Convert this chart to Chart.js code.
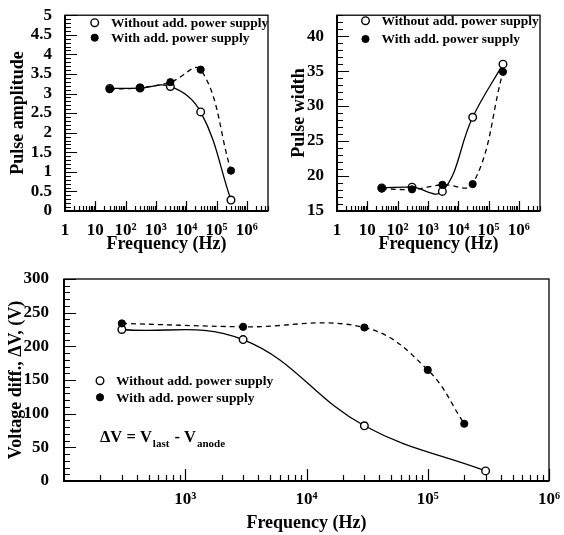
<!DOCTYPE html>
<html>
<head>
<meta charset="utf-8">
<script src="https://cdn.jsdelivr.net/npm/chart.js@4"></script>
<style>
  body { margin: 0; background: #fff; }
  #wrap { position: relative; width: 564px; height: 535px; }
  canvas { position: absolute; }
</style>
</head>
<body>
<div id="wrap">
  <canvas id="ampChart" width="282" height="260" style="left:0;top:0"></canvas>
  <canvas id="widthChart" width="282" height="260" style="left:282px;top:0"></canvas>
  <canvas id="voltChart" width="564" height="275" style="left:0;top:260px"></canvas>
</div>
<script>
// values
const seriesLabels = ['Without add. power supply', 'With add. power supply'];

const freqTop = [30, 300, 3000, 30000, 300000];
const ampWithout = [3.13, 3.14, 3.18, 2.53, 0.28];
const ampWith = [3.11, 3.15, 3.29, 3.61, 1.03];
const widthWithout = [18.3, 18.4, 17.8, 28.4, 36.0];
const widthWith = [18.2, 18.1, 18.75, 18.85, 34.9];

const freqVoltWithout = [300, 3000, 30000, 300000];
const voltWithout = [225, 210, 82, 15];
const freqVoltWith = [300, 3000, 30000, 100000, 200000];
const voltWith = [234, 229, 228, 165, 85];

const topFreqTicks = [1, 10, 100, 1000, 10000, 100000, 1000000];
const topFreqLabels = ['1', '10', '10²', '10³', '10⁴', '10⁵', '10⁶'];
const voltFreqTicks = [1000, 10000, 100000, 1000000];
const voltFreqLabels = ['10³', '10⁴', '10⁵', '10⁶'];

const FONT = 'Liberation Serif';

function points(xs, ys) {
    return xs.map((x, i) => ({ x: x, y: ys[i] }));
}

// frame, inward ticks, legend and note drawn inside the plot
const axesFrame = {
    id: 'axesFrame',
    afterDatasetsDraw(chart, args, o) {
        const { ctx, chartArea: a, scales: { x, y } } = chart;
        ctx.save();
        ctx.strokeStyle = '#000';
        ctx.lineWidth = 1.2;
        ctx.beginPath();
        for (let i = 0; ; i++) {
            const v = y.min + i * o.yMinor;
            if (v > y.max + 1e-9) break;
            const r = v / o.yMajor;
            const major = Math.abs(r - Math.round(r)) < 1e-6;
            const py = Math.round(y.getPixelForValue(v)) + 0.5;
            ctx.moveTo(a.left, py);
            ctx.lineTo(a.left + (major ? o.yMajorLen : o.yMinorLen), py);
        }
        const d0 = Math.floor(Math.log10(x.min));
        const d1 = Math.ceil(Math.log10(x.max));
        for (let d = d0; d <= d1; d++) {
            for (let k = 1; k <= 9; k++) {
                const v = k * Math.pow(10, d);
                if (v < x.min * 0.999 || v > x.max * 1.001) continue;
                const px = Math.round(x.getPixelForValue(v)) + 0.5;
                ctx.moveTo(px, a.bottom);
                ctx.lineTo(px, a.bottom - (k === 1 ? o.xMajorLen : o.xMinorLen));
            }
        }
        ctx.stroke();

        ctx.lineWidth = 1.3;
        ctx.strokeRect(a.left, a.top, a.right - a.left, a.bottom - a.top);
        ctx.lineWidth = 2;
        ctx.beginPath();
        ctx.moveTo(a.left, a.top);
        ctx.lineTo(a.left, a.bottom);
        ctx.lineTo(a.right, a.bottom);
        ctx.stroke();

        // legend
        const lg = o.legend;
        ctx.font = 'bold 13.5px "' + FONT + '"';
        ctx.textBaseline = 'middle';
        ctx.textAlign = 'left';
        chart.data.datasets.forEach((ds, i) => {
            const ly = lg.y + i * lg.gap;
            ctx.beginPath();
            ctx.arc(lg.x, ly, ds.pointRadius, 0, Math.PI * 2);
            ctx.fillStyle = ds.pointBackgroundColor;
            ctx.fill();
            ctx.lineWidth = ds.pointBorderWidth;
            ctx.strokeStyle = '#000';
            ctx.stroke();
            ctx.fillStyle = '#000';
            ctx.fillText(ds.label, lg.textX, ly + 1);
        });

        if (o.note) {
            const parts = [
                ['ΔV = V', 16.5, 0],
                ['last', 11, 5],
                [' - V', 16.5, 0],
                ['anode', 11, 5]
            ];
            let nx = o.note.x;
            ctx.textBaseline = 'alphabetic';
            parts.forEach(p => {
                ctx.font = 'bold ' + p[1] + 'px "' + FONT + '"';
                ctx.fillText(p[0], nx, o.note.y + p[2]);
                nx += ctx.measureText(p[0]).width + 1;
            });
        }
        ctx.restore();
    }
};

function lineSets(withoutPts, withPts) {
    return [
        {
            label: seriesLabels[0],
            data: withoutPts,
            order: 2,
            borderColor: '#000',
            backgroundColor: '#fff',
            borderWidth: 1.3,
            pointRadius: 3.8,
            pointBorderWidth: 1.4,
            pointBackgroundColor: '#fff',
            pointBorderColor: '#000',
            tension: 0.4,
            fill: false
        },
        {
            label: seriesLabels[1],
            data: withPts,
            order: 1,
            borderColor: '#000',
            backgroundColor: '#000',
            borderWidth: 1.3,
            borderDash: [5, 4],
            pointRadius: 3.6,
            pointBorderWidth: 1,
            pointBackgroundColor: '#000',
            pointBorderColor: '#000',
            tension: 0.4,
            fill: false
        }
    ];
}

function makeChart(id, cfg) {
    const tickFont = { family: FONT, size: 17, weight: 'bold' };
    const titleFont = { family: FONT, size: 18, weight: 'bold' };
    return new Chart(document.getElementById(id), {
        type: 'line',
        data: { datasets: cfg.datasets },
        options: {
            responsive: false,
            animation: false,
            layout: { padding: cfg.padding },
            plugins: {
                legend: { display: false },
                tooltip: { enabled: false },
                axesFrame: cfg.frame
            },
            scales: {
                x: {
                    type: 'logarithmic',
                    min: cfg.xMin,
                    max: cfg.xMax,
                    grid: { display: false },
                    border: { display: false },
                    afterBuildTicks: s => { s.ticks = cfg.xTicks.map(v => ({ value: v })); },
                    afterFit: s => { s.height = cfg.xHeight; },
                    ticks: {
                        autoSkip: false,
                        maxRotation: 0,
                        padding: cfg.xTickPad,
                        color: '#000',
                        font: tickFont,
                        callback: (v, i) => cfg.xLabels[i]
                    },
                    title: {
                        display: true,
                        text: 'Frequency (Hz)',
                        color: '#000',
                        font: titleFont,
                        padding: { top: 0, bottom: cfg.xTitlePad }
                    }
                },
                y: {
                    type: 'linear',
                    min: cfg.yMin,
                    max: cfg.yMax,
                    grid: { display: false },
                    border: { display: false },
                    afterFit: s => { s.width = cfg.yWidth; },
                    ticks: {
                        stepSize: cfg.yStep,
                        includeBounds: false,
                        autoSkip: false,
                        padding: cfg.yTickPad,
                        color: '#000',
                        font: tickFont,
                        callback: v => String(Math.round(v * 10) / 10)
                    },
                    title: {
                        display: true,
                        text: cfg.yTitle,
                        color: '#000',
                        font: titleFont,
                        padding: { top: cfg.yTitlePad, bottom: 0 }
                    }
                }
            }
        },
        plugins: [axesFrame]
    });
}

makeChart('ampChart', {
    datasets: lineSets(points(freqTop, ampWithout), points(freqTop, ampWith)),
    padding: { left: 0, top: 10, right: 14, bottom: 0 },
    xMin: 1, xMax: 5e6, xTicks: topFreqTicks, xLabels: topFreqLabels,
    xHeight: 49, xTickPad: 1, xTitlePad: 5,
    yMin: 0, yMax: 5, yStep: 0.5, yWidth: 65, yTickPad: 5,
    yTitle: 'Pulse amplitude', yTitlePad: 8,
    frame: {
        yMinor: 0.1, yMajor: 0.5, yMinorLen: 6, yMajorLen: 12,
        xMinorLen: 5, xMajorLen: 10,
        legend: { x: 94.7, y: 22.7, gap: 15, textX: 111 }
    }
});

makeChart('widthChart', {
    datasets: lineSets(points(freqTop, widthWithout), points(freqTop, widthWith)),
    padding: { left: 0, top: 10, right: 24, bottom: 0 },
    xMin: 1, xMax: 5e6, xTicks: topFreqTicks, xLabels: topFreqLabels,
    xHeight: 49, xTickPad: 1, xTitlePad: 5,
    yMin: 15, yMax: 43, yStep: 5, yWidth: 55, yTickPad: 5,
    yTitle: 'Pulse width', yTitlePad: 7,
    frame: {
        yMinor: 1, yMajor: 5, yMinorLen: 6, yMajorLen: 12,
        xMinorLen: 5, xMajorLen: 10,
        legend: { x: 83.5, y: 20.7, gap: 18.3, textX: 99.5 }
    }
});

makeChart('voltChart', {
    datasets: lineSets(points(freqVoltWithout, voltWithout), points(freqVoltWith, voltWith)),
    padding: { left: 0, top: 19, right: 15, bottom: 0 },
    xMin: 100, xMax: 1e6, xTicks: voltFreqTicks, xLabels: voltFreqLabels,
    xHeight: 54, xTickPad: 0, xTitlePad: 1,
    yMin: 0, yMax: 300, yStep: 50, yWidth: 64, yTickPad: 7,
    yTitle: 'Voltage diff., ΔV, (V)', yTitlePad: 6,
    frame: {
        yMinor: 10, yMajor: 50, yMinorLen: 6, yMajorLen: 12,
        xMinorLen: 6, xMajorLen: 12,
        legend: { x: 100, y: 120.7, gap: 16.6, textX: 116 },
        note: { x: 100, y: 182 }
    }
});
</script>
</body>
</html>
